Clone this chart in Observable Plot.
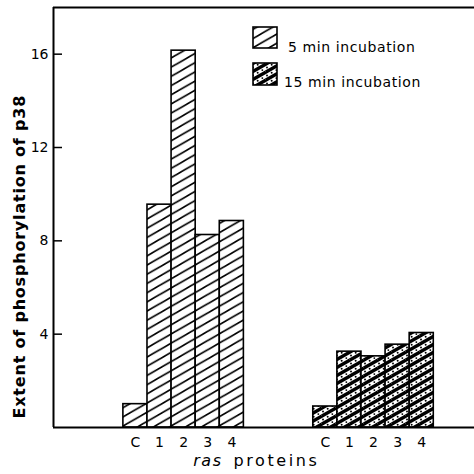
<!DOCTYPE html>
<html><head><meta charset="utf-8">
<script src="https://cdn.jsdelivr.net/npm/d3@7"></script>
<script src="https://cdn.jsdelivr.net/npm/@observablehq/plot@0.6"></script>
<style>
html,body{margin:0;padding:0;background:#fff;}
#chart{position:relative;width:474px;height:474px;}
svg{font-family:"DejaVu Sans",sans-serif;}
</style></head><body><div id="chart"></div>
<script>
// ---- data ----
const proteins = ["C", "1", "2", "3", "4"];
const seriesNames = ["5 min incubation", "15 min incubation"];
const values5min = [1.0, 9.55, 16.15, 8.25, 8.85];
const values15min = [0.9, 3.25, 3.05, 3.55, 4.05];
const yTicks = [4, 8, 12, 16];
const yTitle = "Extent of phosphorylation of p38";
const xTitleItalic = "ras";
const xTitleRest = "proteins";

// ---- layout (slot units: one bar = one slot) ----
const groupOffset = [0, 7.88];
const xDomain = [-2.9, 14.57];
const yDomain = [0, 18];

function rowsFor(values, g) {
  return values.map((v, i) => ({
    series: seriesNames[g], protein: proteins[i], value: v,
    x1: groupOffset[g] + i, x2: groupOffset[g] + i + 1
  }));
}
const rows5 = rowsFor(values5min, 0);
const rows15 = rowsFor(values15min, 1);
const allRows = rows5.concat(rows15);
const centers = allRows.map(d => (d.x1 + d.x2) / 2);
const labelAt = new Map(allRows.map(d => [(d.x1 + d.x2) / 2, d.protein]));

const chart = Plot.plot({
  width: 474, height: 474,
  marginLeft: 53, marginRight: 0, marginTop: 7, marginBottom: 47,
  style: {fontFamily: "DejaVu Sans, sans-serif", fontSize: "14px", color: "black", background: "white"},
  x: {domain: xDomain},
  y: {domain: yDomain},
  marks: [
    Plot.rectY(rows5, {x1: "x1", x2: "x2", y: "value", fill: "url(#hatch5)", stroke: "black", strokeWidth: 1.6}),
    Plot.rectY(rows15, {x1: "x1", x2: "x2", y: "value", fill: "url(#hatch15)", stroke: "black", strokeWidth: 1.6}),
    Plot.ruleY([yDomain[0]], {stroke: "black", strokeWidth: 2}),
    Plot.ruleY([yDomain[1]], {stroke: "black", strokeWidth: 1.8}),
    Plot.ruleX([xDomain[0]], {stroke: "black", strokeWidth: 2}),
    Plot.axisY({ticks: yTicks, tickSize: -9, tickPadding: 14, label: null, fontSize: 14, strokeWidth: 1.5}),
    Plot.axisX({ticks: centers, tickFormat: d => labelAt.get(d), tickSize: 0, tickPadding: 10, label: null, fontSize: 14}),
    Plot.text([yTitle], {text: d => d, frameAnchor: "bottom-left", rotate: -90, textAnchor: "start",
      dx: -29, dy: -9, fontSize: 16, fontWeight: "bold"}),
    Plot.text([xTitleItalic], {text: d => d, frameAnchor: "bottom", textAnchor: "end", dx: -41.5, dy: 38,
      fontSize: 16, fontStyle: "italic"}),
    Plot.text([xTitleRest], {text: d => d, frameAnchor: "bottom", textAnchor: "start", dx: -30.5, dy: 38,
      fontSize: 16})
  ]
});

const svg = d3.select(chart);
svg.selectAll("text").each(function() {
  const t = this.textContent;
  if (t === yTitle) this.setAttribute("letter-spacing", "0.8");
  if (t === xTitleRest) this.setAttribute("letter-spacing", "2.6");
  if (t === xTitleItalic) this.setAttribute("letter-spacing", "1.5");
});

// hatch patterns: lines rising to the right ("/"), unrotated tiles
const defs = svg.insert("defs", ":first-child");
function diagPath(w, h, yOff) {
  let d = "";
  for (const ox of [-w, 0, w]) for (const oy of [-h, 0, h]) {
    d += `M${ox},${h + oy + yOff}L${w + ox},${oy + yOff}`;
  }
  return d;
}
{
  const w = 16, h = 9.2;
  const p = defs.append("pattern").attr("id", "hatch5").attr("patternUnits", "userSpaceOnUse")
    .attr("width", w).attr("height", h);
  p.append("rect").attr("width", w).attr("height", h).attr("fill", "white");
  p.append("path").attr("d", diagPath(w, h, 0)).attr("stroke", "black").attr("stroke-width", 1.7).attr("fill", "none");
}
{
  const w = 14, h = 8;
  const p = defs.append("pattern").attr("id", "hatch15").attr("patternUnits", "userSpaceOnUse")
    .attr("width", w).attr("height", h);
  p.append("rect").attr("width", w).attr("height", h).attr("fill", "white");
  p.append("path").attr("d", diagPath(w, h, 0)).attr("stroke", "black").attr("stroke-width", 3.4).attr("fill", "none");
  // dots along the middle of the white band
  const k = h / w;
  [1, 5.67, 10.33].forEach(x => {
    let y = (h + h / 2 - k * x) % h;
    for (const oy of [-h, 0, h]) {
      p.append("circle").attr("cx", x).attr("cy", y + oy).attr("r", 0.95).attr("fill", "black");
    }
  });
}

// legend
const legendItems = [
  {fill: "url(#hatch5)", name: seriesNames[0], box: [253, 27, 24, 21], text: [288, 52]},
  {fill: "url(#hatch15)", name: seriesNames[1], box: [253, 63, 24, 22], text: [284, 87]}
];
const lg = svg.append("g").attr("class", "legend").attr("text-anchor", "start");
legendItems.forEach(it => {
  lg.append("rect").attr("x", it.box[0]).attr("y", it.box[1]).attr("width", it.box[2]).attr("height", it.box[3])
    .attr("fill", it.fill).attr("stroke", "black").attr("stroke-width", 1.6);
  lg.append("text").attr("x", it.text[0]).attr("y", it.text[1]).attr("font-size", 14)
    .attr("text-anchor", "start").attr("letter-spacing", 0.6).text(it.name);
});

document.getElementById("chart").appendChild(chart);
</script></body></html>
